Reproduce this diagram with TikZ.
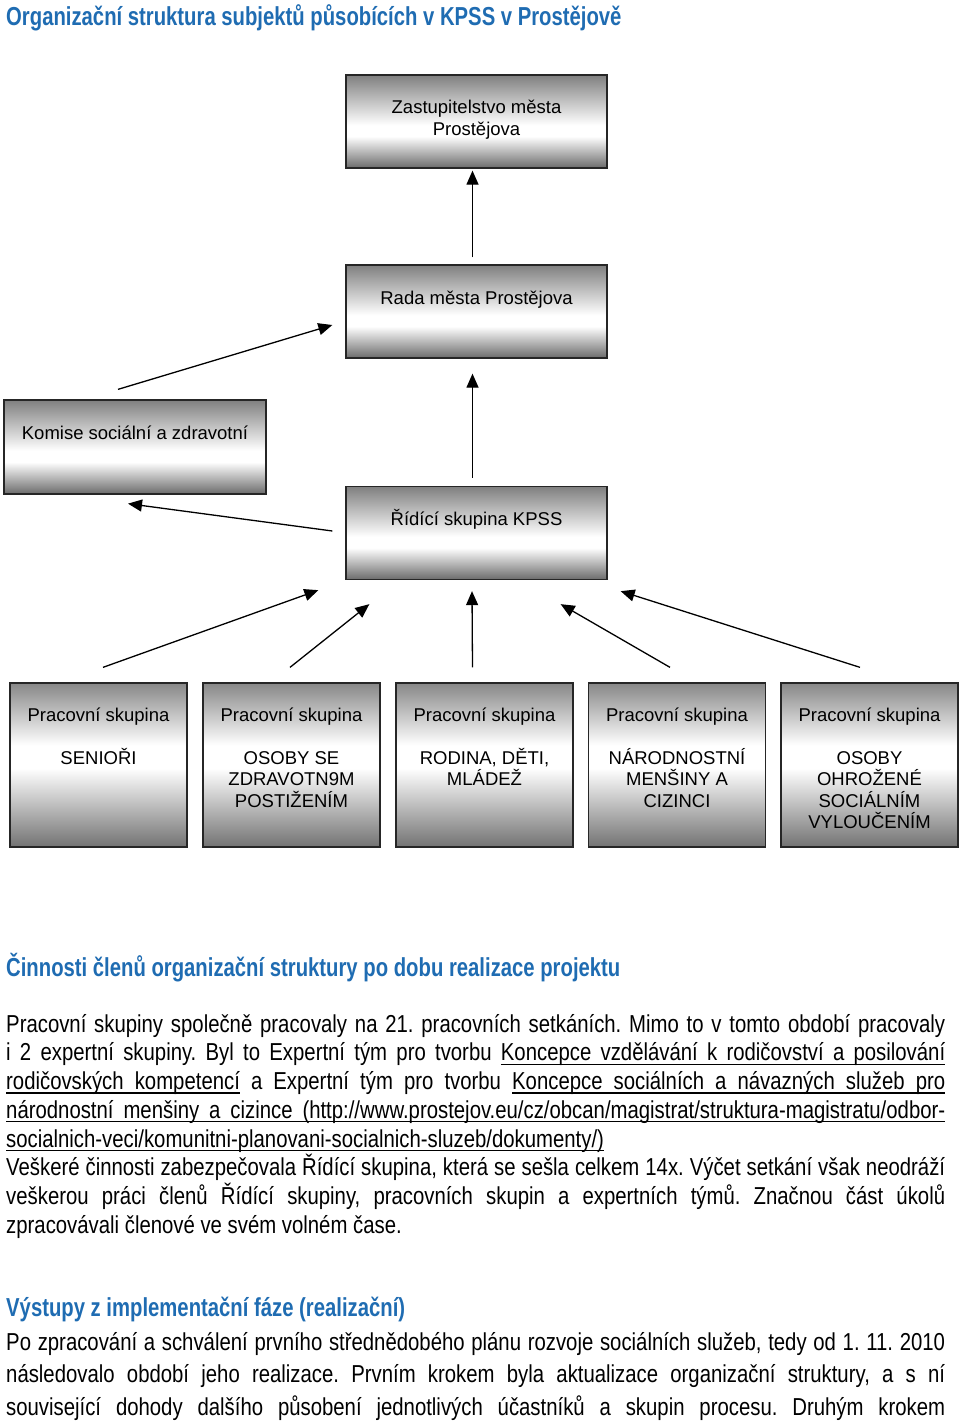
\documentclass[tikz,border=0pt]{standalone}
\usepackage{fontspec}
\usetikzlibrary{arrows.meta}
\newfontfamily\krabicefont{Liberation Sans}
\newfontfamily\telofont{Liberation Sans}[FakeStretch=0.83]
\newfontfamily\nadpisfont{Liberation Sans}[FakeStretch=0.78]
\definecolor{modra}{RGB}{31,108,178}
% stinovani ramecku: nahore seda, uprostred bila, dole seda
\pgfdeclareverticalshading{horni}{100bp}{color(0bp)=(black!58); color(25bp)=(black!58); color(42bp)=(white); color(48bp)=(white); color(75bp)=(black!50); color(100bp)=(black!50)}
\pgfdeclareverticalshading{dolni}{100bp}{color(0bp)=(black!55); color(25bp)=(black!55); color(49bp)=(white); color(56bp)=(white); color(75bp)=(black!47); color(100bp)=(black!47)}
% podtrzeny text, mezery se mohou natahovat
\makeatletter
\def\podtrhslovo#1{\setbox0\hbox{#1}\rlap{\rule[-4pt]{\wd0}{1.1pt}}\box0\relax}
\def\podtrhmezera{\leaders\hrule height -2.9pt depth 4pt\hskip\fontdimen2\font plus\fontdimen3\font minus\fontdimen4\font}
\def\podtrh#1{\podtrh@slovo#1 \@nil}
\def\podtrh@slovo#1 #2\@nil{\podtrhslovo{#1}\ifx\relax#2\relax\else\podtrhmezera\podtrh@slovo#2\@nil\fi}
\makeatother
\begin{document}
\begin{tikzpicture}[x=1pt, y=-1pt,
  krabice/.style={draw=black!85, line width=1.3pt, inner sep=0pt, minimum width=261pt, minimum height=93pt, shade, shading=horni},
  skupina/.style={krabice, minimum width=177pt, minimum height=164pt, shading=dolni},
  popis/.style={font={\krabicefont\fontsize{18.5pt}{21.5pt}\selectfont}, align=center, anchor=north, inner sep=0pt, execute at begin node={\rule{0pt}{17pt}}},
  sipka/.style={-{Triangle[length=14pt,width=12pt]}, line width=1.3pt},
  nadpis/.style={font={\nadpisfont\bfseries\fontsize{26pt}{30pt}\selectfont}, text=modra, anchor=base west, inner sep=0pt},
  odstavec/.style={font={\telofont\fontsize{24.5pt}{28.75pt}\selectfont}, anchor=base west, inner sep=0pt, text width=939pt, align=justify}]
\useasboundingbox (0,0) rectangle (960,1424);
\node[nadpis] (titulek) at (6,25) {Organizační struktura subjektů působících v KPSS v Prostějově};
% ramecky
\node[krabice] (zastupitelstvo) at (476.5,121.5) {};
\node[krabice] (rada) at (476.5,311.5) {};
\node[krabice, minimum width=262pt, minimum height=94pt] (komise) at (135,447) {};
\node[krabice] (ridici) at (476.5,533) {};
\node[skupina] (seniori) at (98.5,765) {};
\node[skupina] (zdravotni) at (291.5,765) {};
\node[skupina] (rodina) at (484.5,765) {};
\node[skupina] (mensiny) at (677,765) {};
\node[skupina] (vylouceni) at (869.5,765) {};
% texty v rameccich
\node[popis, font={\krabicefont\fontsize{18.5pt}{22pt}\selectfont}] (zastupitelstvoText) at ([yshift=-25pt]zastupitelstvo.north) {Zastupitelstvo města\\Prostějova};
\node[popis] (radaText) at ([yshift=-23pt]rada.north) {Rada města Prostějova};
\node[popis] (komiseText) at ([yshift=-23pt]komise.north) {Komise sociální a zdravotní};
\node[popis] (ridiciText) at ([yshift=-22pt]ridici.north) {Řídící skupina KPSS};
\node[popis] (senioriText) at ([yshift=-25pt]seniori.north) {Pracovní skupina\\[21.5pt]SENIOŘI};
\node[popis] (zdravotniText) at ([yshift=-25pt]zdravotni.north) {Pracovní skupina\\[21.5pt]OSOBY SE\\ZDRAVOTN9M\\POSTIŽENÍM};
\node[popis] (rodinaText) at ([yshift=-25pt]rodina.north) {Pracovní skupina\\[21.5pt]RODINA, DĚTI,\\MLÁDEŽ};
\node[popis] (mensinyText) at ([yshift=-25pt]mensiny.north) {Pracovní skupina\\[21.5pt]NÁRODNOSTNÍ\\MENŠINY A\\CIZINCI};
\node[popis] (vylouceniText) at ([yshift=-25pt]vylouceni.north) {Pracovní skupina\\[21.5pt]OSOBY\\OHROŽENÉ\\SOCIÁLNÍM\\VYLOUČENÍM};
% sipky
\draw[sipka] ([shift={(-4,-7)}]rada.north) -- ([shift={(-4,2)}]zastupitelstvo.south);
\draw[sipka] ([shift={(-17,-10)}]komise.north) -- ([shift={(-13,13.5)}]rada.west);
\draw[sipka] ([shift={(-4,-8)}]ridici.north) -- ([shift={(-4,15)}]rada.south);
\draw[sipka] ([shift={(-13,-2)}]ridici.west) -- ([shift={(-7,9)}]komise.south);
\draw[sipka] ([shift={(4.5,-15)}]seniori.north) -- ([shift={(-27,10)}]ridici.south west);
\draw[sipka] ([shift={(-1.5,-15)}]zdravotni.north) -- ([shift={(24,24)}]ridici.south west);
\draw[sipka] ([shift={(-12,-15)}]rodina.north) -- ([shift={(-4.5,11)}]ridici.south);
\draw[sipka] ([shift={(-7,-15)}]mensiny.north) -- ([shift={(-47,24)}]ridici.south east);
\draw[sipka] ([shift={(-9.5,-15)}]vylouceni.north) -- ([shift={(13,11)}]ridici.south east);
% text pod schematem
\node[nadpis] (cinnosti) at (6,976) {Činnosti členů organizační struktury po dobu realizace projektu};
\node[odstavec] (cinnostiText) at (6,1032) {\tolerance=10000 \hyphenpenalty=10000 \frenchspacing
Pracovní skupiny společně pracovaly na 21. pracovních setkáních. Mimo to v tomto období pracovaly\linebreak
i 2 expertní skupiny. Byl to Expertní tým pro tvorbu \podtrh{Koncepce vzdělávání k rodičovství a posilování}\linebreak
\podtrh{rodičovských kompetencí} a Expertní tým pro tvorbu \podtrh{Koncepce sociálních a návazných služeb pro}\linebreak
\podtrh{národnostní menšiny a cizince (http://www.prostejov.eu/cz/obcan/magistrat/struktura-magistratu/odbor-}\linebreak
\podtrh{socialnich-veci/komunitni-planovani-socialnich-sluzeb/dokumenty/)}\\
Veškeré činnosti zabezpečovala Řídící skupina, která se sešla celkem 14x. Výčet setkání však neodráží\linebreak
veškerou práci členů Řídící skupiny, pracovních skupin a expertních týmů. Značnou část úkolů\linebreak
zpracovávali členové ve svém volném čase.\par};
\node[nadpis] (vystupy) at (6,1316) {Výstupy z implementační fáze (realizační)};
\node[odstavec, font={\telofont\fontsize{24.5pt}{32.5pt}\selectfont}] (vystupyText) at (6,1350) {\tolerance=10000 \hyphenpenalty=10000 \frenchspacing
Po zpracování a schválení prvního střednědobého plánu rozvoje sociálních služeb, tedy od 1. 11. 2010\linebreak
následovalo období jeho realizace. Prvním krokem byla aktualizace organizační struktury, a s ní\linebreak
související dohody dalšího působení jednotlivých účastníků a skupin procesu. Druhým krokem\parfillskip=0pt\par};
\end{tikzpicture}
\end{document}
